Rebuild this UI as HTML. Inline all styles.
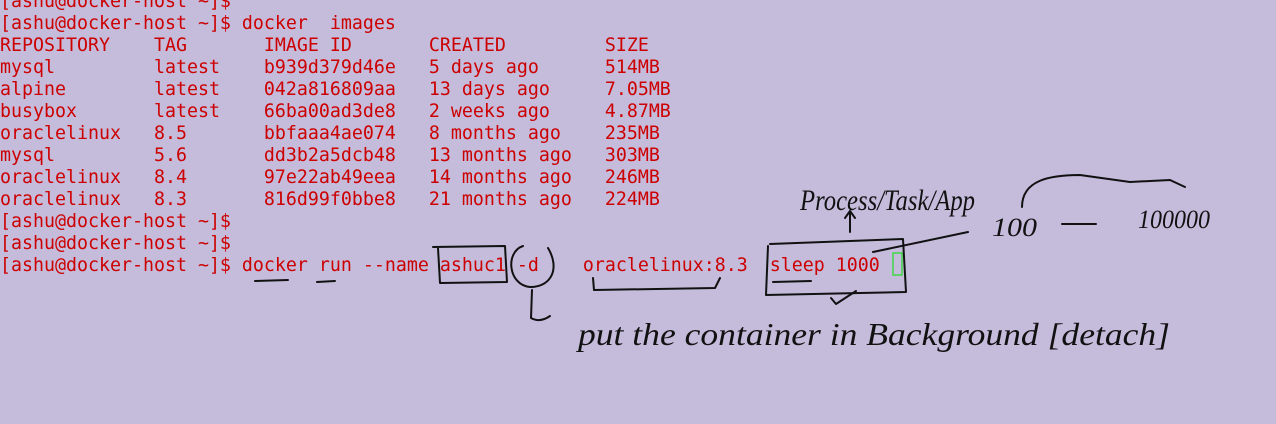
<!DOCTYPE html>
<html><head><meta charset="utf-8"><style>
html,body{margin:0;padding:0;width:1276px;height:424px;overflow:hidden;background:#c5bcdc;}
pre{position:absolute;left:0;top:-9.4px;margin:0;font-family:"DejaVu Sans Mono","Liberation Mono",monospace;font-size:18.28px;line-height:22px;color:#cc0000;}
svg{position:absolute;left:0;top:0;}
</style></head><body>
<pre>[ashu@docker-host ~]$
[ashu@docker-host ~]$ docker  images
REPOSITORY    TAG       IMAGE ID       CREATED         SIZE
mysql         latest    b939d379d46e   5 days ago      514MB
alpine        latest    042a816809aa   13 days ago     7.05MB
busybox       latest    66ba00ad3de8   2 weeks ago     4.87MB
oraclelinux   8.5       bbfaaa4ae074   8 months ago    235MB
mysql         5.6       dd3b2a5dcb48   13 months ago   303MB
oraclelinux   8.4       97e22ab49eea   14 months ago   246MB
oraclelinux   8.3       816d99f0bbe8   21 months ago   224MB
[ashu@docker-host ~]$
[ashu@docker-host ~]$
[ashu@docker-host ~]$ docker run --name ashuc1 -d    oraclelinux:8.3  sleep 1000 </pre>
<svg width="1276" height="424" viewBox="0 0 1276 424" fill="none" stroke="#111" stroke-width="2" stroke-linecap="round" stroke-linejoin="round">
<rect x="893" y="253" width="9" height="22" stroke="#22dd22" stroke-width="1.2"/>
<path d="M255 281 L288 280 M317 282 L335 281"/>
<path d="M433 247 L505 246 L507 282 L440 283 L438 248"/>
<path d="M523 246 C505 252 508 285 530 287 C552 287 560 268 548 248"/>
<path d="M532 290 L531 318 Q540 323 550 316"/>
<path d="M593 278 L594 290 L715 288 L720 278"/>
<path d="M770 244 L903 239 L906 292 L766 295 L768 246"/>
<path d="M773 282 L811 281"/>
<path d="M831 298 L836 304 L856 291"/>
<path d="M850 232 L850 212 M845 218 L850 211 L855 218"/>
<path d="M873 252 L968 232"/>
<path d="M1022 207 C1022 180 1050 175 1080 175 L1130 182 L1170 180 L1185 187"/>
<path d="M1062 224 L1096 224"/>
<g fill="#111" stroke="none" font-family="'Liberation Serif',serif" font-style="italic">
<text x="800" y="210" font-size="30" textLength="175" lengthAdjust="spacingAndGlyphs">Process/Task/App</text>
<text x="992" y="236" font-size="26" textLength="45" lengthAdjust="spacingAndGlyphs">100</text>
<text x="1138" y="228" font-size="26" textLength="72" lengthAdjust="spacingAndGlyphs">100000</text>
<text x="578" y="345" font-size="32" textLength="592" lengthAdjust="spacingAndGlyphs">put  the  container  in  Background  [detach]</text>
</g>
</svg>
</body></html>
